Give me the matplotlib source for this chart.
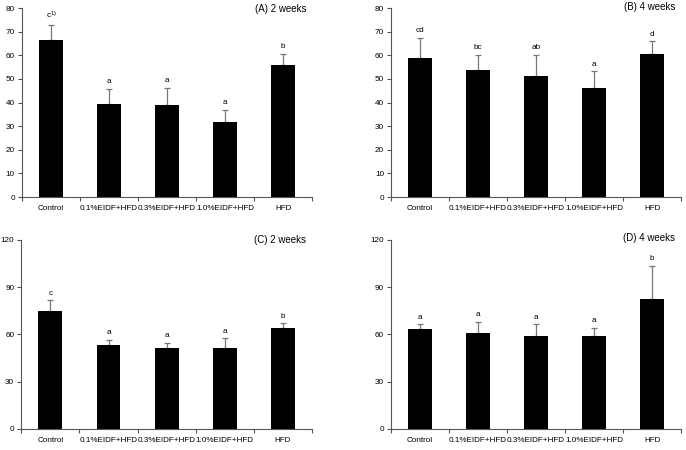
import matplotlib
matplotlib.use("Agg")
import matplotlib.pyplot as plt
import numpy as np

plt.rcParams["font.family"] = ["Liberation Sans", "DejaVu Sans"]
plt.rcParams["mathtext.fontset"] = "custom"
plt.rcParams["mathtext.rm"] = "Liberation Sans"
plt.rcParams["mathtext.default"] = "regular"

groups = ["Control", "0.1%EIDF+HFD", "0.3%EIDF+HFD", "1.0%EIDF+HFD", "HFD"]

# panel values: means, upper error (SD) and significance letters
a_mean = [66.3, 39.2, 39.0, 31.8, 55.8]
a_err = [6.6, 6.6, 7.3, 5.2, 4.9]
a_lab = ["c$^{1)}$", "a", "a", "a", "b"]

b_mean = [58.7, 53.7, 51.2, 46.3, 60.4]
b_err = [8.7, 6.5, 9.0, 6.9, 5.7]
b_lab = ["cd", "bc", "ab", "a", "d"]

c_mean = [75.0, 53.5, 51.6, 51.6, 63.8]
c_err = [6.6, 3.1, 3.1, 6.1, 3.4]
c_lab = ["c", "a", "a", "a", "b"]

d_mean = [63.4, 60.6, 59.2, 59.2, 82.6]
d_err = [3.2, 7.4, 7.4, 5.0, 20.9]
d_lab = ["a", "a", "a", "a", "b"]

panels = [
    ("(A) 2 weeks", a_mean, a_err, a_lab, 80, 10, [0.032, 0.562, 0.423, 0.420], 0.995),
    ("(B) 4 weeks", b_mean, b_err, b_lab, 80, 10, [0.570, 0.562, 0.423, 0.420], 1.005),
    ("(C) 2 weeks", c_mean, c_err, c_lab, 120, 30, [0.031, 0.047, 0.424, 0.420], 1.0),
    ("(D) 4 weeks", d_mean, d_err, d_lab, 120, 30, [0.570, 0.047, 0.423, 0.420], 1.01),
]

axis_col = "#555555"
fs = 5.9
fig = plt.figure(figsize=(6.86, 4.5), dpi=100)

for title, mean, err, labels, ymax, ystep, rect, ty in panels:
    ax = fig.add_axes(rect)
    x = np.arange(len(groups))
    ax.bar(x, mean, width=0.41, color="black", zorder=2)
    ax.errorbar(x, mean, yerr=[np.zeros(len(mean)), err], fmt="none",
                ecolor="#777777", elinewidth=0.9, capsize=2, capthick=0.9, zorder=1)
    pad = ymax * 0.018
    for xi, m, e, lab in zip(x, mean, err, labels):
        ax.text(xi, m + e + pad, lab, ha="center", va="bottom", fontsize=fs)

    ax.set_xlim(-0.5, len(groups) - 0.5)
    ax.set_ylim(0, ymax)
    ax.set_yticks(np.arange(0, ymax + 1, ystep))
    ax.set_xticks(np.arange(-0.5, len(groups), 1.0))
    ax.set_xticklabels([])
    ax.set_xticks(x, minor=True)
    ax.set_xticklabels(groups, minor=True)
    ax.tick_params(axis="x", which="minor", length=0, labelsize=fs, pad=6)
    ax.tick_params(axis="x", which="major", length=3, direction="out",
                   color=axis_col, width=0.8)
    ax.tick_params(axis="y", length=3, direction="out", color=axis_col,
                   width=0.8, labelsize=fs, pad=2)

    for side in ["top", "right"]:
        ax.spines[side].set_visible(False)
    for side in ["left", "bottom"]:
        ax.spines[side].set_color(axis_col)
        ax.spines[side].set_linewidth(0.8)

    ax.text(0.98, ty, title, transform=ax.transAxes, ha="right", va="center",
            fontsize=7)

fig.savefig("out.png", dpi=100)
